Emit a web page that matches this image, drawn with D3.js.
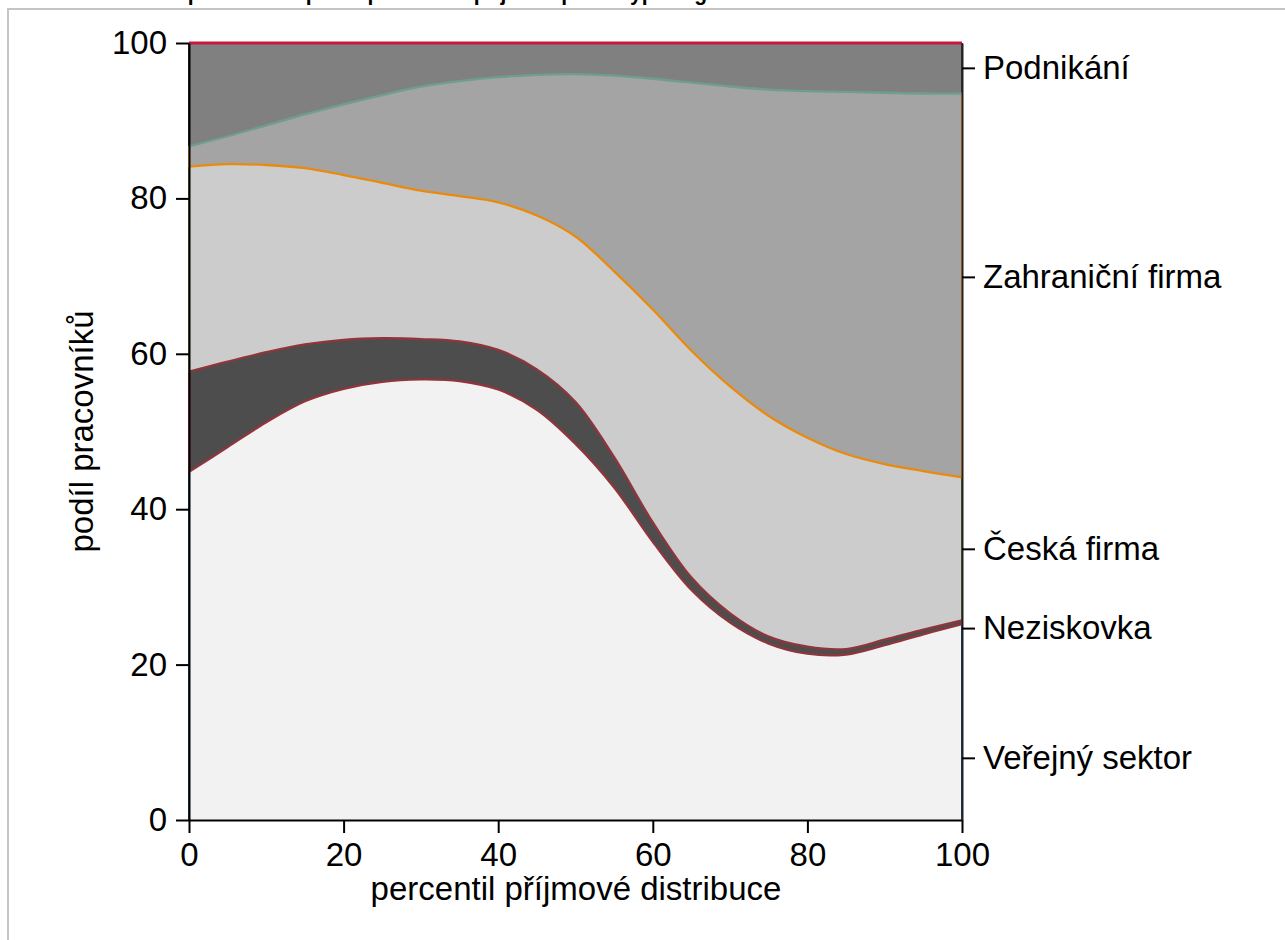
<!DOCTYPE html>
<html>
<head>
<meta charset="utf-8">
<script src="https://cdn.jsdelivr.net/npm/d3@7"></script>
<style>
  html, body { margin: 0; padding: 0; background: #fff; overflow: hidden; }
  svg { display: block; font-family: "Liberation Sans", Arial, sans-serif; }
</style>
</head>
<body>
<svg id="chart" width="1285" height="940"></svg>
<script>
// ---- data ----
const percentiles = [0,5,10,15,20,25,30,35,40,45,50,55,60,65,70,75,80,85,90,95,100];
const categories = ["Veřejný sektor","Neziskovka","Česká firma","Zahraniční firma","Podnikání"];
const verejny     = [44.8,48.0,51.2,53.9,55.5,56.4,56.7,56.5,55.4,52.8,48.4,42.8,35.8,29.6,25.4,22.7,21.4,21.3,22.5,23.9,25.2];
const neziskovka  = [12.9,11.0,9.0,7.3,6.3,5.6,5.2,5.1,5.1,5.2,5.4,3.9,2.5,1.6,1.2,0.9,0.9,0.7,0.7,0.6,0.5];
const ceska       = [26.4,25.4,24.1,22.7,21.2,20.0,19.1,18.7,19.0,19.8,21.3,23.9,27.4,29.2,29.2,28.4,26.9,25.1,22.6,20.4,18.4];
const zahranicni  = [2.6,3.6,5.1,6.9,9.1,11.3,13.4,14.8,16.1,18.1,20.9,25.2,29.7,34.5,38.6,42.0,44.6,46.6,47.8,48.6,49.4];
const podnikani   = [13.3,12.0,10.6,9.2,7.9,6.7,5.6,4.9,4.4,4.1,4.0,4.2,4.6,5.1,5.6,6.0,6.2,6.3,6.4,6.5,6.5];
const xTicks = [0,20,40,60,80,100];
const yTicks = [0,20,40,60,80,100];
const rightLabelValues = [8.0,24.7,34.9,69.9,96.8];
const titleText = "Graf 4: Struktura pracovníků podle percentilu příjmu a podle typu organizace";
const xTitle = "percentil příjmové distribuce";
const yTitle = "podíl pracovníků";

// ---- styles ----
const fills = ["#f2f2f2","#4d4d4d","#cccccc","#a4a4a4","#808080"];
const topLines = ["#90353b","#90353b","#ea8a0c","#6f9e90","#c8173f"];
const edgeLines = ["#1a476f","#90353b","#55752f","#ea8a0c","#333333"];

const svg = d3.select("#chart");
const W = 1285, H = 940;
const m = {left: 189, right: 962, top: 43, bottom: 820};

// frame
svg.append("rect").attr("x", 8).attr("y", 9).attr("width", W + 20).attr("height", H + 20)
  .attr("fill", "#fff").attr("stroke", "#c4c4c4").attr("stroke-width", 2);

// cut-off title (only its lowest pixels show in the reference)
svg.append("text").attr("x", 15).attr("y", 0)
  .attr("font-size", 22).attr("font-weight", "bold").attr("fill", "#000")
  .attr("textLength", 768).attr("lengthAdjust", "spacingAndGlyphs")
  .text(titleText);

const x = d3.scaleLinear().domain([0,100]).range([m.left, m.right]);
const y = d3.scaleLinear().domain([0,100]).range([m.bottom, m.top]);

const series = [verejny, neziskovka, ceska, zahranicni, podnikani];
const rows = percentiles.map((p, i) => {
  const r = {p};
  categories.forEach((c, k) => r[c] = series[k][i]);
  return r;
});
const stacked = d3.stack().keys(categories)(rows);

const curve = d3.curveCatmullRom.alpha(0.5);
const area = d3.area().curve(curve)
  .x(d => x(d.data.p)).y0(d => y(d[0])).y1(d => y(d[1]));
const line = d3.line().curve(curve)
  .x(d => x(d.data.p)).y(d => y(d[1]));

const g = svg.append("g");
stacked.forEach((s, k) => {
  g.append("path").attr("d", area(s)).attr("fill", fills[k]).attr("stroke", "none");
});
// left and right band edges
stacked.forEach((s, k) => {
  const a = s[0], b = s[s.length - 1];
  g.append("line").attr("x1", x(0)).attr("x2", x(0)).attr("y1", y(a[0])).attr("y2", y(a[1]))
    .attr("stroke", edgeLines[k]).attr("stroke-width", 2);
  g.append("line").attr("x1", x(100)).attr("x2", x(100)).attr("y1", y(b[0])).attr("y2", y(b[1]))
    .attr("stroke", edgeLines[k]).attr("stroke-width", 2);
});
// boundary lines
stacked.forEach((s, k) => {
  g.append("path").attr("d", line(s)).attr("fill", "none")
    .attr("stroke", topLines[k]).attr("stroke-width", k === 4 ? 3 : 2.3);
});

// axes
const fontSize = 33;
const xAxis = svg.append("g").attr("transform", `translate(0,${m.bottom})`)
  .call(d3.axisBottom(x).tickValues(xTicks).tickSize(13).tickSizeOuter(0).tickPadding(10).tickFormat(d3.format("d")));
const yAxis = svg.append("g").attr("transform", `translate(${m.left},0)`)
  .call(d3.axisLeft(y).tickValues(yTicks).tickSize(13).tickSizeOuter(0).tickPadding(9).tickFormat(d3.format("d")));
const rAxis = svg.append("g").attr("transform", `translate(${m.right},0)`)
  .call(d3.axisRight(y).tickValues(rightLabelValues).tickSize(13).tickSizeOuter(0).tickPadding(8)
    .tickFormat((d, i) => categories[i]));

[xAxis, yAxis, rAxis].forEach(a => {
  a.select(".domain").attr("stroke", "#000").attr("stroke-width", 2);
  a.selectAll(".tick line").attr("stroke", "#000").attr("stroke-width", 2);
  a.selectAll(".tick text").attr("font-size", fontSize).attr("fill", "#000")
    .attr("font-family", "'Liberation Sans', Arial, sans-serif");
});
rAxis.select(".domain").attr("stroke", "#222");

// axis titles
svg.append("text").attr("x", 576).attr("y", 900)
  .attr("text-anchor", "middle").attr("font-size", fontSize).attr("fill", "#000").text(xTitle);
svg.append("text").attr("transform", `translate(93,${(m.top + m.bottom) / 2}) rotate(-90)`)
  .attr("text-anchor", "middle").attr("font-size", fontSize).attr("fill", "#000").text(yTitle);
</script>
</body>
</html>
